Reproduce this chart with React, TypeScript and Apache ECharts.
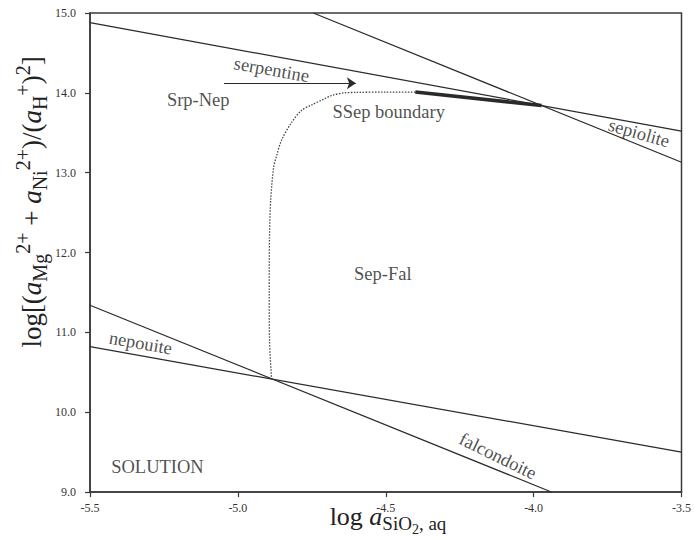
import React, { useEffect, useRef } from "react";
import * as echarts from "echarts";

const FONT = "Liberation Serif";

// Phase boundaries (log aSiO2, log[...] )
const serpentineLine = [[-5.5, 14.88], [-3.5, 13.52]];
const sepioliteLine = [[-4.745, 15.0], [-3.5, 13.13]];
const falcondoiteLine = [[-5.5, 11.34], [-3.94, 9.0]];
const nepouiteLine = [[-5.5, 10.82], [-3.5, 9.5]];
const thickSegment = [[-4.4, 14.01], [-3.973, 13.841]];
const ssepBoundary = [
  [-4.4, 14.01], [-4.5, 14.01], [-4.6, 14.005], [-4.64, 14.0], [-4.68, 13.97],
  [-4.71, 13.92], [-4.75, 13.85], [-4.785, 13.78], [-4.82, 13.62], [-4.852, 13.41],
  [-4.87, 13.2], [-4.879, 13.07], [-4.889, 12.66], [-4.893, 12.2], [-4.894, 11.5],
  [-4.893, 10.9], [-4.886, 10.42],
];
const arrowCoords = [[-5.047, 14.12], [-4.601, 14.12]];

const labelTexts = ["serpentine", "Srp-Nep", "SSep boundary", "sepiolite", "Sep-Fal", "nepouite", "falcondoite", "SOLUTION"];
const labelX = [-4.886, -5.134, -4.49, -3.644, -4.51, -5.329, -4.121, -5.272];
const labelY = [14.29, 13.91, 13.76, 13.496, 11.73, 10.865, 9.449, 9.31];
const labelRot = [-10, 0, 0, -16, 0, -10, -26, 0];

const xMin = -5.5, xMax = -3.5, xStep = 0.5;
const yMin = 9, yMax = 15, yStep = 1;

type Piece = { t: string; s: number; it?: boolean; dy: number };

function layoutPieces(pieces: Piece[]) {
  const ctx = document.createElement("canvas").getContext("2d")!;
  let x = 0;
  const els: any[] = [];
  for (const p of pieces) {
    const style = p.it ? "italic" : "normal";
    ctx.font = `${style} ${p.s}px "${FONT}"`;
    const w = ctx.measureText(p.t).width;
    els.push({
      type: "text",
      x,
      y: p.dy - 0.335 * p.s,
      style: {
        text: p.t,
        fontSize: p.s,
        fontFamily: FONT,
        fontStyle: style,
        fill: "#222",
        align: "left",
        verticalAlign: "middle",
        textAlign: "left",
        textVerticalAlign: "middle",
      },
    });
    x += w;
  }
  return { els, width: x };
}

export default function App() {
  const ref = useRef<HTMLDivElement>(null);
  useEffect(() => {
    const chart = echarts.init(ref.current!, null, { renderer: "svg" });
    const M = 27, S = 20;
    const yPieces: Piece[] = [
      { t: "log[(", s: M, dy: 0 },
      { t: "a", s: M, it: true, dy: 0 },
      { t: "Mg", s: S, dy: 6 },
      { t: "2+", s: S, dy: -11 },
      { t: " + ", s: M, dy: 0 },
      { t: "a", s: M, it: true, dy: 0 },
      { t: "Ni", s: S, dy: 6 },
      { t: "2+", s: S, dy: -11 },
      { t: ")/(", s: M, dy: 0 },
      { t: "a", s: M, it: true, dy: 0 },
      { t: "H", s: S, dy: 6 },
      { t: "+", s: S, dy: -11 },
      { t: ")", s: M, dy: 0 },
      { t: "2", s: S, dy: -11 },
      { t: "]", s: M, dy: 0 },
    ];
    const XM = 26, XS = 19;
    const xPieces: Piece[] = [
      { t: "log ", s: XM, dy: 0 },
      { t: "a", s: XM, it: true, dy: 0 },
      { t: "SiO", s: XS, dy: 5 },
      { t: "2", s: 14, dy: 9 },
      { t: ", aq", s: XS, dy: 5 },
    ];
    const yt = layoutPieces(yPieces);
    const xt = layoutPieces(xPieces);

    const lineStyle = { color: "#2a2a2a", width: 1.2 };
    const mkLine = (data: number[][]) => ({
      type: "line",
      data,
      symbol: "none",
      lineStyle,
      silent: true,
      z: 3,
    });

    const option: any = {
      animation: false,
      backgroundColor: "#fff",
      textStyle: { fontFamily: FONT },
      grid: {
        left: 90, right: 8, top: 13, bottom: 48,
        show: true, borderColor: "#3a3a3a", borderWidth: 1.5,
        containLabel: false,
      },
      xAxis: {
        type: "value", min: xMin, max: xMax, interval: xStep,
        axisLine: { show: true, lineStyle: { color: "#3a3a3a", width: 1.5 } },
        axisTick: { show: true, length: 5, lineStyle: { color: "#3a3a3a", width: 1.2 } },
        axisLabel: {
          margin: 10, fontSize: 12, fontFamily: FONT, color: "#333",
          formatter: (v: number) => v.toFixed(1),
        },
        splitLine: { show: false },
      },
      yAxis: {
        type: "value", min: yMin, max: yMax, interval: yStep,
        axisLine: { show: true, lineStyle: { color: "#3a3a3a", width: 1.5 } },
        axisTick: { show: true, length: 5, lineStyle: { color: "#3a3a3a", width: 1.2 } },
        axisLabel: {
          margin: 14, fontSize: 12, fontFamily: FONT, color: "#333",
          formatter: (v: number) => v.toFixed(1),
        },
        splitLine: { show: false },
      },
      series: [
        mkLine(serpentineLine),
        mkLine(sepioliteLine),
        mkLine(falcondoiteLine),
        mkLine(nepouiteLine),
        {
          type: "line", data: thickSegment, symbol: "none", silent: true, z: 4,
          lineStyle: { color: "#2a2a2a", width: 3.6 },
        },
        {
          type: "line", data: ssepBoundary, symbol: "none", silent: true, smooth: 0.3, z: 3,
          lineStyle: { color: "#444", width: 1.3, type: [1.5, 1.5] },
        },
        {
          type: "lines", coordinateSystem: "cartesian2d", silent: true, z: 4,
          symbol: ["none", "arrow"], symbolSize: 9,
          lineStyle: { color: "#2a2a2a", width: 1.2, opacity: 1 },
          data: [{ coords: arrowCoords }],
        },
        {
          type: "scatter", symbolSize: 0, silent: true, z: 5,
          data: labelTexts.map((t, i) => ({
            value: [labelX[i], labelY[i]],
            label: { formatter: t, rotate: labelRot[i] },
          })),
          label: {
            show: true, position: "inside", fontSize: 18.5, fontFamily: FONT, color: "#222",
          },
        },
      ],
      graphic: [
        {
          type: "group", x: 41, y: 202 + yt.width / 2, rotation: Math.PI / 2,
          children: yt.els,
        },
        {
          type: "group", x: 388 - xt.width / 2, y: 525,
          children: xt.els,
        },
      ],
    };
    chart.setOption(option);
    return () => chart.dispose();
  }, []);
  return (
    <div
      ref={ref}
      style={{ position: "fixed", left: 0, top: 0, width: 694, height: 540, background: "#fff" }}
    />
  );
}
